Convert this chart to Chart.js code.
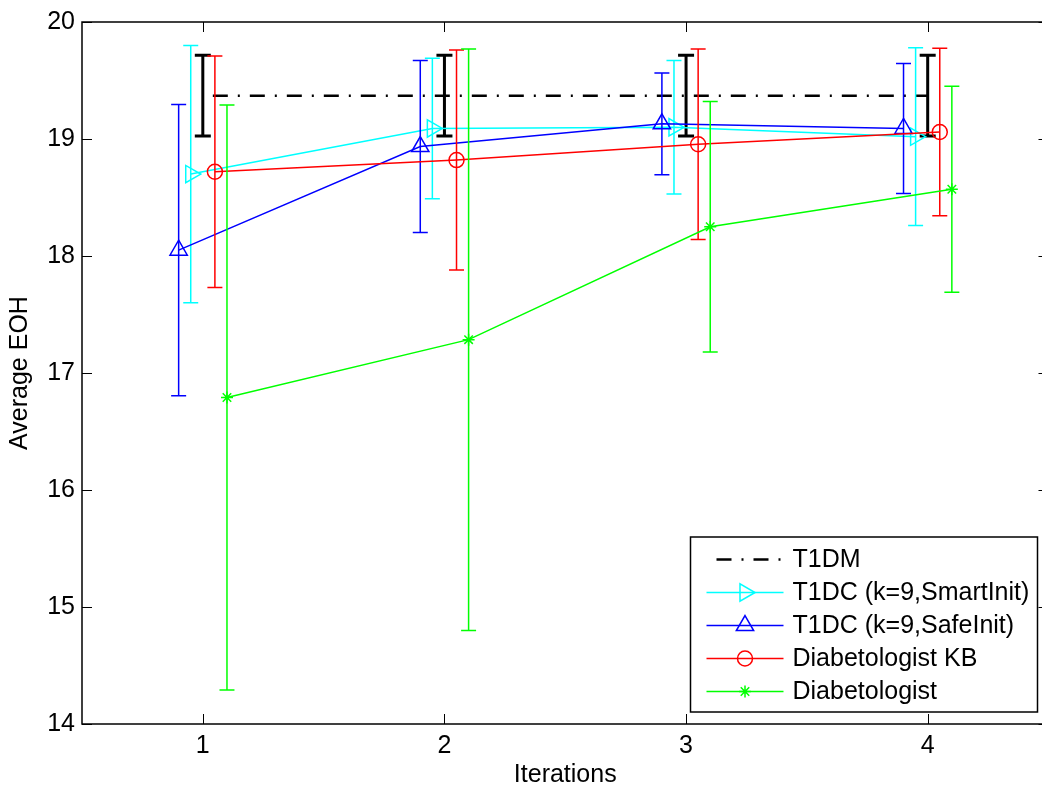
<!DOCTYPE html>
<html>
<head>
<meta charset="utf-8">
<script src="https://cdn.jsdelivr.net/npm/chart.js@4.4.0/dist/chart.umd.min.js"></script>
<style>
  html, body { margin: 0; padding: 0; background: #fff; overflow: hidden; }
  canvas { display: block; }
</style>
</head>
<body>
<canvas id="eoh-chart" width="1060" height="790"></canvas>
<script>
// values (mean +/- error per iteration)
const iterations = [1, 2, 3, 4];
const yTicks = [14, 15, 16, 17, 18, 19, 20];

const t1dmMean = [19.37, 19.37, 19.37, 19.37];
const t1dmErr = [0.345, 0.345, 0.345, 0.345];
const smartMean = [18.70, 19.09, 19.10, 19.02];
const smartErr = [1.10, 0.60, 0.57, 0.76];
const safeMean = [18.05, 18.935, 19.13, 19.09];
const safeErr = [1.245, 0.735, 0.435, 0.555];
const kbMean = [18.72, 18.82, 18.955, 19.06];
const kbErr = [0.99, 0.94, 0.815, 0.715];
const diabMean = [16.79, 17.285, 18.25, 18.57];
const diabErr = [2.5, 2.485, 1.07, 0.88];

const FONT = '"Liberation Sans", Arial, Helvetica, sans-serif';
const FONT_SIZE = 25;

function series(label, mean, err, shift, style) {
    return Object.assign({
        label: label,
        data: iterations.map((it, i) => ({ x: it + shift, y: mean[i], err: err[i] })),
        backgroundColor: 'rgba(0,0,0,0)',
        pointBackgroundColor: 'rgba(0,0,0,0)',
        borderWidth: 1.5,
        pointBorderWidth: 1.5,
        errWidth: 1.5,
        capHalf: 7.5,
        tension: 0,
        fill: false
    }, style);
}

const datasets = [
    series('T1DM', t1dmMean, t1dmErr, 0, {
        borderColor: '#000', pointBorderColor: '#000', borderWidth: 2.5,
        borderDash: [15, 10, 2, 10], borderDashOffset: 27,
        pointRadius: 0, errWidth: 3, capHalf: 8, order: 5
    }),
    series('T1DC (k=9,SmartInit)', smartMean, smartErr, -0.05, {
        borderColor: '#00ffff', pointBorderColor: '#00ffff',
        pointStyle: 'triangle', pointRotation: 90, pointRadius: 10, order: 4
    }),
    series('T1DC (k=9,SafeInit)', safeMean, safeErr, -0.1, {
        borderColor: '#0000ff', pointBorderColor: '#0000ff',
        pointStyle: 'triangle', pointRadius: 10, order: 3
    }),
    series('Diabetologist KB', kbMean, kbErr, 0.05, {
        borderColor: '#ff0000', pointBorderColor: '#ff0000',
        pointStyle: 'circle', pointRadius: 7.5, order: 2
    }),
    series('Diabetologist', diabMean, diabErr, 0.1, {
        borderColor: '#00ff00', pointBorderColor: '#00ff00',
        pointStyle: 'star', pointRadius: 6, order: 1
    })
];

// vertical error bars with caps, drawn under each series
const errorBars = {
    id: 'errorBars',
    beforeDatasetDraw(chart, args) {
        const ds = chart.data.datasets[args.index];
        const xs = chart.scales.x, ys = chart.scales.y;
        const ctx = chart.ctx;
        ctx.save();
        ctx.strokeStyle = ds.borderColor;
        ctx.lineWidth = ds.errWidth;
        ctx.setLineDash([]);
        ds.data.forEach(d => {
            const px = xs.getPixelForValue(d.x);
            const top = ys.getPixelForValue(d.y + d.err);
            const bot = ys.getPixelForValue(d.y - d.err);
            ctx.beginPath();
            ctx.moveTo(px, top); ctx.lineTo(px, bot);
            ctx.moveTo(px - ds.capHalf, top); ctx.lineTo(px + ds.capHalf, top);
            ctx.moveTo(px - ds.capHalf, bot); ctx.lineTo(px + ds.capHalf, bot);
            ctx.stroke();
        });
        ctx.restore();
    }
};

// matlab style box with inward ticks
const axesBox = {
    id: 'axesBox',
    afterDatasetsDraw(chart) {
        const { ctx, chartArea: a } = chart;
        const xs = chart.scales.x, ys = chart.scales.y;
        ctx.save();
        ctx.strokeStyle = '#000';
        ctx.lineWidth = 1;
        ctx.beginPath();
        iterations.forEach(v => {
            const px = Math.round(xs.getPixelForValue(v)) + 0.5;
            ctx.moveTo(px, a.bottom); ctx.lineTo(px, a.bottom - 10);
            ctx.moveTo(px, a.top); ctx.lineTo(px, a.top + 10);
        });
        yTicks.forEach(v => {
            const py = Math.round(ys.getPixelForValue(v)) + 0.5;
            ctx.moveTo(a.left, py); ctx.lineTo(a.left + 10, py);
            ctx.moveTo(a.right, py); ctx.lineTo(a.right - 10, py);
        });
        ctx.stroke();
        ctx.lineWidth = 1.5;
        ctx.strokeRect(a.left, a.top, a.right - a.left, a.bottom - a.top);
        ctx.restore();
    }
};

// legend box in the lower right corner of the axes
const boxLegend = {
    id: 'boxLegend',
    afterDraw(chart) {
        const { ctx, chartArea: a } = chart;
        const right = a.right - 11, bottom = a.bottom - 12;
        const left = right - 347, top = bottom - 175;
        ctx.save();
        ctx.fillStyle = '#fff';
        ctx.fillRect(left, top, right - left, bottom - top);
        ctx.strokeStyle = '#000';
        ctx.lineWidth = 1.5;
        ctx.setLineDash([]);
        ctx.strokeRect(left, top, right - left, bottom - top);

        chart.data.datasets.forEach((ds, i) => {
            const y = top + 22.5 + i * 33;
            const x0 = left + 16, x1 = left + 93;
            ctx.strokeStyle = ds.borderColor;
            ctx.lineWidth = i === 0 ? 2.5 : 1.5;
            ctx.setLineDash(ds.borderDash || []);
            ctx.lineDashOffset = i === 0 ? 27 : 0;
            ctx.beginPath();
            ctx.moveTo(x0, y); ctx.lineTo(x1, y);
            ctx.stroke();
            ctx.setLineDash([]);
            if (ds.pointRadius > 0) {
                ctx.fillStyle = 'rgba(0,0,0,0)';
                ctx.lineWidth = 1.5;
                Chart.helpers.drawPoint(ctx, {
                    pointStyle: ds.pointStyle,
                    rotation: ds.pointRotation || 0,
                    radius: ds.pointRadius,
                    borderWidth: 1.5
                }, (x0 + x1) / 2, y);
            }
            ctx.fillStyle = '#000';
            ctx.font = FONT_SIZE + 'px ' + FONT;
            ctx.textAlign = 'left';
            ctx.textBaseline = 'middle';
            ctx.fillText(ds.label, left + 102, y + 1);
        });
        ctx.restore();
    }
};

Chart.defaults.color = '#000';
Chart.defaults.font.family = FONT;
Chart.defaults.font.size = FONT_SIZE;

new Chart(document.getElementById('eoh-chart'), {
    type: 'line',
    data: { datasets: datasets },
    options: {
        responsive: false,
        animation: false,
        events: [],
        layout: { padding: { top: 20, right: 9, left: 0, bottom: 0 } },
        plugins: { legend: { display: false }, tooltip: { enabled: false } },
        scales: {
            x: {
                type: 'linear',
                min: 0.5,
                max: 4.5,
                afterBuildTicks: axis => { axis.ticks = iterations.map(v => ({ value: v })); },
                afterFit: axis => { axis.height = 66; },
                grid: { display: false, drawTicks: false },
                border: { display: false },
                ticks: { padding: 7, callback: v => String(v) },
                title: { display: true, text: 'Iterations', padding: { top: 0, bottom: 0 } }
            },
            y: {
                min: 14,
                max: 20,
                afterBuildTicks: axis => { axis.ticks = yTicks.map(v => ({ value: v })); },
                afterFit: axis => { axis.width = 82; },
                grid: { display: false, drawTicks: false },
                border: { display: false },
                ticks: { padding: 7, callback: v => String(v) },
                title: { display: true, text: 'Average EOH', padding: { top: 5, bottom: 0 } }
            }
        }
    },
    plugins: [errorBars, axesBox, boxLegend]
});
</script>
</body>
</html>
